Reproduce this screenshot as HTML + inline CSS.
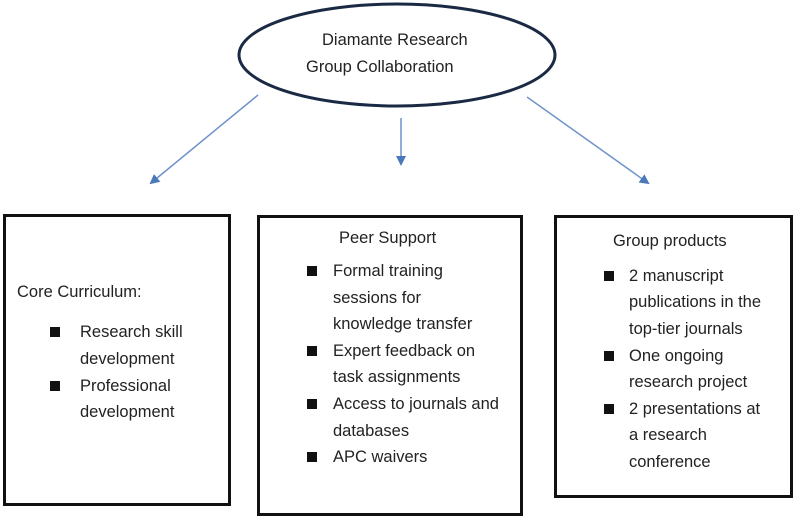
<!DOCTYPE html>
<html><head><style>
body{margin:0;width:797px;height:519px;background:#fff;position:relative;overflow:hidden;font-family:"Liberation Sans",sans-serif;color:#222;font-size:17px}
.box{position:absolute;border:3px solid #111;box-sizing:border-box}
.t{position:absolute;white-space:nowrap;line-height:17px;transform:scaleX(0.97);transform-origin:left}
.b{position:absolute;width:10px;height:10px;background:#111}
</style></head><body>
<svg width="797" height="519" style="position:absolute;left:0;top:0">
<defs><marker id="a" markerWidth="10" markerHeight="10" refX="8" refY="5" orient="auto" markerUnits="userSpaceOnUse"><path d="M0,0 L10,5 L0,10 z" fill="#4a78b8"/></marker></defs>
<ellipse cx="397" cy="55" rx="158" ry="51" fill="#fff" stroke="#1b2a44" stroke-width="3"/>
<line x1="258" y1="95" x2="151" y2="183" stroke="#6e93c8" stroke-width="1.5" marker-end="url(#a)"/>
<line x1="401" y1="118" x2="401" y2="164" stroke="#6e93c8" stroke-width="1.5" marker-end="url(#a)"/>
<line x1="527" y1="97" x2="648" y2="183" stroke="#6e93c8" stroke-width="1.5" marker-end="url(#a)"/>
</svg>
<div class="t" style="left:322px;top:31px">Diamante Research</div>
<div class="t" style="left:306px;top:58px">Group Collaboration</div>

<div class="box" style="left:3px;top:214px;width:228px;height:292px"></div>
<div class="box" style="left:257px;top:215px;width:266px;height:301px"></div>
<div class="box" style="left:554px;top:215px;width:239px;height:283px"></div>

<div class="t" style="left:17px;top:283px">Core Curriculum:</div>
<div class="b" style="left:50px;top:327px"></div><div class="t" style="left:80px;top:323px">Research skill</div>
<div class="t" style="left:80px;top:350px">development</div>
<div class="b" style="left:50px;top:381px"></div><div class="t" style="left:80px;top:377px">Professional</div>
<div class="t" style="left:80px;top:403px">development</div>

<div class="t" style="left:339px;top:229px">Peer Support</div>
<div class="b" style="left:307px;top:266px"></div><div class="t" style="left:333px;top:262px">Formal training</div>
<div class="t" style="left:333px;top:289px">sessions for</div>
<div class="t" style="left:333px;top:315px">knowledge transfer</div>
<div class="b" style="left:307px;top:346px"></div><div class="t" style="left:333px;top:342px">Expert feedback on</div>
<div class="t" style="left:333px;top:368px">task assignments</div>
<div class="b" style="left:307px;top:399px"></div><div class="t" style="left:333px;top:395px">Access to journals and</div>
<div class="t" style="left:333px;top:422px">databases</div>
<div class="b" style="left:307px;top:452px"></div><div class="t" style="left:333px;top:448px">APC waivers</div>

<div class="t" style="left:613px;top:232px">Group products</div>
<div class="b" style="left:604px;top:271px"></div><div class="t" style="left:629px;top:267px">2 manuscript</div>
<div class="t" style="left:629px;top:293px">publications in the</div>
<div class="t" style="left:629px;top:320px">top-tier journals</div>
<div class="b" style="left:604px;top:351px"></div><div class="t" style="left:629px;top:347px">One ongoing</div>
<div class="t" style="left:629px;top:373px">research project</div>
<div class="b" style="left:604px;top:404px"></div><div class="t" style="left:629px;top:400px">2 presentations at</div>
<div class="t" style="left:629px;top:426px">a research</div>
<div class="t" style="left:629px;top:453px">conference</div>
</body></html>
